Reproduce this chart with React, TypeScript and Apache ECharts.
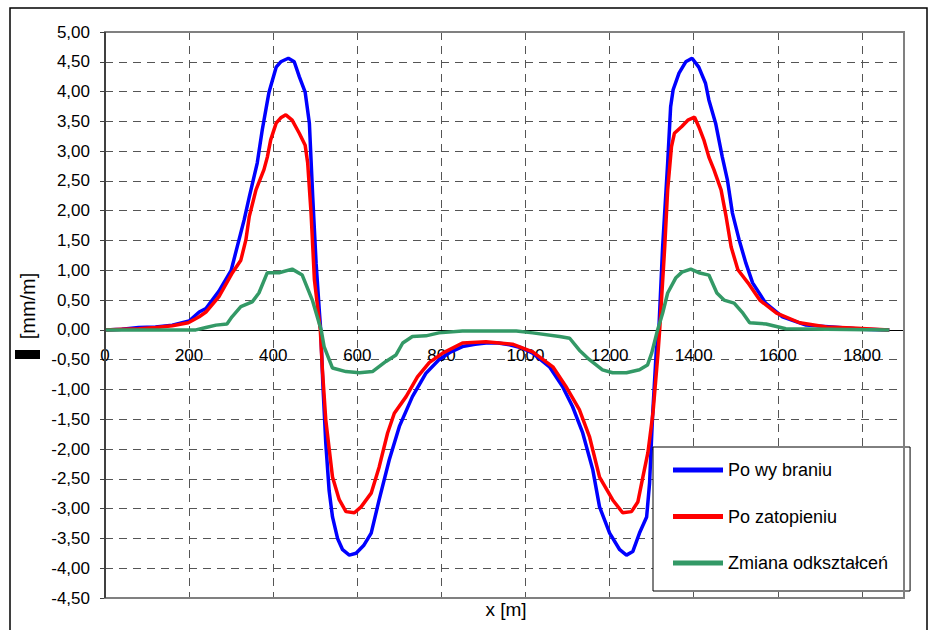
import React, { useEffect, useRef } from "react";
import * as echarts from "echarts";

const seriesNames = ["Po wy braniu", "Po zatopieniu", "Zmiana odkształceń"];
const seriesColors = ["#0000FF", "#FF0000", "#339966"];

const blueX = [0, 40, 80, 120, 160, 200, 224, 240, 271, 300, 331, 343, 362, 374, 390, 407, 418, 436, 450, 462, 476, 486, 494, 502, 510, 513, 518, 525, 533, 541, 553, 565, 581, 597, 615, 633, 652, 676, 700, 731, 763, 794, 820, 850, 880, 906, 935, 962, 990, 1017, 1057, 1088, 1112, 1136, 1160, 1176, 1200, 1224, 1240, 1255, 1271, 1288, 1295, 1302, 1311, 1317, 1326, 1338, 1345, 1351, 1365, 1381, 1396, 1412, 1428, 1436, 1452, 1468, 1480, 1492, 1508, 1524, 1540, 1571, 1611, 1667, 1730, 1762, 1800, 1865];
const blueY = [0, 0.01, 0.04, 0.05, 0.08, 0.15, 0.3, 0.36, 0.65, 1.0, 1.85, 2.23, 2.8, 3.36, 3.99, 4.41, 4.5, 4.56, 4.5, 4.25, 3.99, 3.47, 2.23, 1.12, 0.28, 0, -0.9, -1.9, -2.7, -3.14, -3.5, -3.69, -3.78, -3.75, -3.62, -3.41, -2.85, -2.18, -1.62, -1.12, -0.73, -0.5, -0.38, -0.28, -0.24, -0.22, -0.22, -0.25, -0.3, -0.39, -0.62, -0.95, -1.29, -1.73, -2.35, -2.97, -3.41, -3.69, -3.78, -3.72, -3.41, -3.14, -2.57, -1.46, -0.34, 0, 1.39, 2.8, 3.74, 4.03, 4.31, 4.5, 4.56, 4.41, 4.14, 3.86, 3.47, 2.9, 2.52, 1.96, 1.51, 1.12, 0.79, 0.45, 0.22, 0.08, 0.05, 0.03, 0.01, 0];

const redX = [0, 40, 80, 121, 160, 198, 224, 240, 271, 303, 323, 335, 343, 359, 378, 386, 394, 407, 418, 430, 445, 462, 476, 482, 490, 498, 510, 512, 517, 525, 541, 557, 573, 593, 609, 633, 652, 672, 688, 716, 743, 771, 803, 850, 906, 969, 1017, 1065, 1096, 1128, 1152, 1176, 1207, 1231, 1252, 1267, 1279, 1291, 1303, 1315, 1319, 1331, 1338, 1347, 1354, 1371, 1386, 1402, 1412, 1424, 1436, 1448, 1465, 1477, 1489, 1505, 1529, 1557, 1597, 1652, 1716, 1778, 1865];
const redY = [0, 0.01, 0.02, 0.04, 0.07, 0.12, 0.22, 0.3, 0.56, 0.96, 1.17, 1.51, 1.9, 2.35, 2.69, 2.9, 3.19, 3.47, 3.56, 3.61, 3.52, 3.3, 3.1, 2.8, 1.96, 0.84, 0.12, 0, -0.67, -1.51, -2.47, -2.85, -3.05, -3.07, -2.97, -2.74, -2.3, -1.73, -1.4, -1.12, -0.79, -0.55, -0.39, -0.22, -0.2, -0.24, -0.37, -0.62, -0.95, -1.34, -1.79, -2.47, -2.85, -3.07, -3.05, -2.89, -2.47, -2.06, -1.4, -0.39, 0, 1.39, 2.35, 3.07, 3.3, 3.41, 3.52, 3.57, 3.41, 3.19, 2.9, 2.69, 2.35, 1.9, 1.39, 1.01, 0.79, 0.5, 0.28, 0.12, 0.05, 0.03, 0];

const greenX = [0, 200, 216, 240, 264, 290, 302, 323, 350, 366, 386, 414, 445, 469, 493, 514, 521, 541, 573, 605, 636, 668, 692, 708, 731, 763, 794, 850, 978, 1017, 1081, 1105, 1128, 1152, 1183, 1207, 1240, 1271, 1290, 1300, 1314, 1326, 1338, 1357, 1372, 1393, 1412, 1436, 1455, 1472, 1496, 1517, 1533, 1572, 1619, 1865];
const greenY = [0, 0, 0, 0.04, 0.08, 0.1, 0.22, 0.39, 0.47, 0.62, 0.96, 0.96, 1.02, 0.92, 0.5, 0, -0.28, -0.64, -0.7, -0.72, -0.7, -0.53, -0.42, -0.22, -0.11, -0.1, -0.05, -0.02, -0.02, -0.05, -0.11, -0.14, -0.34, -0.5, -0.67, -0.72, -0.72, -0.67, -0.59, -0.39, 0, 0.28, 0.62, 0.87, 0.97, 1.02, 0.96, 0.92, 0.62, 0.5, 0.45, 0.28, 0.12, 0.1, 0.02, 0];

const xMin = 0;
const xMax = 1900;
const xStep = 200;
const yMin = -4.5;
const yMax = 5;
const yStep = 0.5;
const xTitle = "x [m]";
const yTitle = "[mm/m]";

const FONT = "'Liberation Sans', Arial, sans-serif";

function pairs(xs: number[], ys: number[]) {
  return xs.map((x, i) => [x, ys[i]]);
}

export default function App() {
  const ref = useRef<HTMLDivElement>(null);
  useEffect(() => {
    if (!ref.current) return;
    const chart = echarts.init(ref.current, undefined, { renderer: "svg" });
    const data = [pairs(blueX, blueY), pairs(redX, redY), pairs(greenX, greenY)];
    const gridL = 105, gridT = 32, gridW = 799, gridH = 566;
    const zeroOffset = -(gridH * (0 - yMin)) / (yMax - yMin);
    const splitStyle = { color: "#555", type: [8, 6], width: 1 };
    chart.setOption({
      animation: false,
      backgroundColor: "#ffffff",
      grid: { left: gridL, top: gridT, width: gridW, height: gridH, show: false },
      xAxis: {
        type: "value",
        min: xMin,
        max: xMax,
        interval: xStep,
        position: "bottom",
        offset: zeroOffset,
        axisLine: { onZero: false, lineStyle: { color: "#000", width: 1 } },
        axisTick: { show: false },
        axisLabel: {
          showMaxLabel: false,
          margin: 17,
          color: "#000",
          fontSize: 17,
          fontFamily: FONT,
          formatter: (v: number) => String(v),
        },
        splitLine: { show: true, lineStyle: splitStyle },
      },
      yAxis: {
        type: "value",
        min: yMin,
        max: yMax,
        interval: yStep,
        axisLine: { show: true, onZero: false, lineStyle: { color: "#404040", width: 2 } },
        axisTick: { show: true, inside: false, length: 5, lineStyle: { color: "#404040" } },
        axisLabel: {
          margin: 15,
          color: "#000",
          fontSize: 17,
          fontFamily: FONT,
          formatter: (v: number) => v.toFixed(2).replace(".", ","),
        },
        splitLine: { show: true, lineStyle: splitStyle },
      },
      legend: {
        orient: "vertical",
        left: 653,
        top: 447,
        padding: [13, 22, 18, 20],
        itemGap: 26.5,
        itemWidth: 50,
        itemHeight: 5,
        icon: "rect",
        backgroundColor: "#fff",
        borderColor: "#000",
        borderWidth: 1,
        borderRadius: 0,
        textStyle: { fontSize: 18, fontFamily: FONT, color: "#000", lineHeight: 20 },
        data: seriesNames,
      },
      series: seriesNames.map((name, i) => ({
        name,
        type: "line",
        data: data[i],
        showSymbol: false,
        symbol: "none",
        color: seriesColors[i],
        lineStyle: { color: seriesColors[i], width: 3.5 },
        z: 3 + i,
      })),
      graphic: [
        {
          type: "rect",
          z: 100,
          silent: true,
          shape: { x: gridL, y: gridT, width: gridW, height: gridH },
          style: { fill: "none", stroke: "#808080", lineWidth: 2 },
        },
        {
          type: "line",
          z: 101,
          silent: true,
          shape: { x1: gridL, y1: gridT, x2: gridL, y2: gridT + gridH },
          style: { stroke: "#404040", lineWidth: 2 },
        },
        {
          type: "rect",
          z: 100,
          silent: true,
          shape: { x: 10, y: 8, width: 917, height: 640 },
          style: { fill: "none", stroke: "#000", lineWidth: 1.5 },
        },
        {
          type: "text",
          z: 100,
          x: 506,
          y: 609,
          style: { text: xTitle, font: `19px ${FONT}`, fill: "#000", align: "center", verticalAlign: "middle" },
        },
        {
          type: "text",
          z: 100,
          x: 28,
          y: 306,
          rotation: Math.PI / 2,
          style: { text: yTitle, font: `20px ${FONT}`, fill: "#000", align: "center", verticalAlign: "middle" },
        },
        {
          type: "rect",
          z: 100,
          shape: { x: 15, y: 350, width: 25, height: 9 },
          style: { fill: "#000" },
        },
      ],
    });
    return () => chart.dispose();
  }, []);
  return (
    <div
      ref={ref}
      style={{ position: "fixed", left: 0, top: 0, width: 931, height: 630, background: "#fff" }}
    />
  );
}
